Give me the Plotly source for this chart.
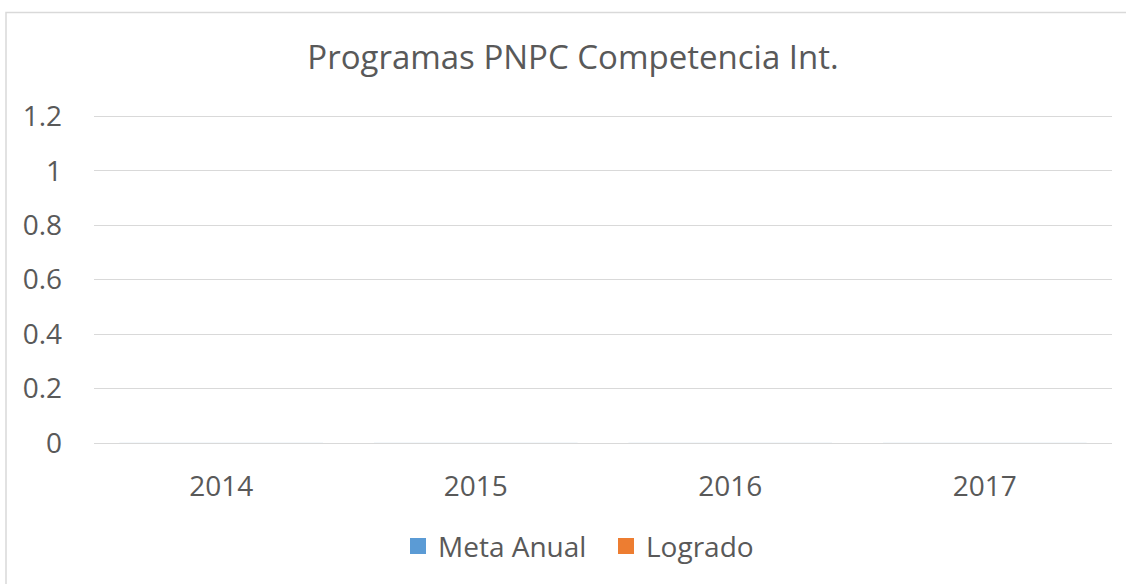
import plotly.graph_objects as go

categories = ["2014", "2015", "2016", "2017"]
meta_anual = [0, 0, 0, 0]
logrado = [0, 0, 0, 0]
y_ticks = [0, 0.2, 0.4, 0.6, 0.8, 1, 1.2]
y_tick_labels = ["0", "0.2", "0.4", "0.6", "0.8", "1", "1.2"]

BLUE = "#5B9BD5"
ORANGE = "#ED7D31"
TEXT = "#595959"
GRID = "#D9D9D9"
FONT = "Open Sans"

fig = go.Figure()
fig.add_trace(go.Bar(x=categories, y=meta_anual, name="Meta Anual",
                     marker_color=BLUE, showlegend=False))
fig.add_trace(go.Bar(x=categories, y=logrado, name="Logrado",
                     marker_color=ORANGE, showlegend=False))
# legend proxies (bigger square symbols)
fig.add_trace(go.Scatter(x=[None], y=[None], mode="markers", name="Meta Anual",
                         marker=dict(symbol="square", size=16, color=BLUE)))
fig.add_trace(go.Scatter(x=[None], y=[None], mode="markers", name="Logrado",
                         marker=dict(symbol="square", size=16, color=ORANGE)))

W, H = 1126, 584
L, R, T, B = 94, 14, 115, 139
pw, ph = W - L - R, H - T - B

fig.update_layout(
    width=W, height=H,
    margin=dict(l=L, r=R, t=T, b=B),
    paper_bgcolor="white", plot_bgcolor="white",
    font=dict(family=FONT, color=TEXT, size=28),
    barmode="group",
    title=dict(text="Programas PNPC Competencia Int.",
               x=573 / W, xanchor="center", xref="container",
               y=1 - 57 / H, yanchor="middle", yref="container",
               font=dict(family=FONT, size=33, color=TEXT)),
    xaxis=dict(type="category", showgrid=False, showline=False, zeroline=False,
               ticks="", tickfont=dict(size=28, color=TEXT),
               ticklabelstandoff=24),
    yaxis=dict(range=[0, 1.205], tickvals=y_ticks, ticktext=y_tick_labels,
               showgrid=True, gridcolor=GRID, gridwidth=1,
               zeroline=True, zerolinecolor=GRID, zerolinewidth=1,
               showline=False, ticks="", tickfont=dict(size=28, color=TEXT),
               ticklabelstandoff=31),
    legend=dict(orientation="h", x=(398 - L) / pw, xanchor="left",
                y=(445 - 549) / ph, yanchor="middle",
                font=dict(size=28, color=TEXT), itemwidth=30,
                entrywidth=163, entrywidthmode="pixels",
                bgcolor="rgba(0,0,0,0)"),
    shapes=[dict(type="rect", xref="paper", yref="paper",
                 x0=(6 - L) / pw, x1=1.2, y0=-0.6, y1=(445 - 12) / ph,
                 line=dict(color=GRID, width=1.5), layer="below")],
)

fig.write_html("out.html", config={"displayModeBar": False},
               post_script="document.body.style.margin='0';")
